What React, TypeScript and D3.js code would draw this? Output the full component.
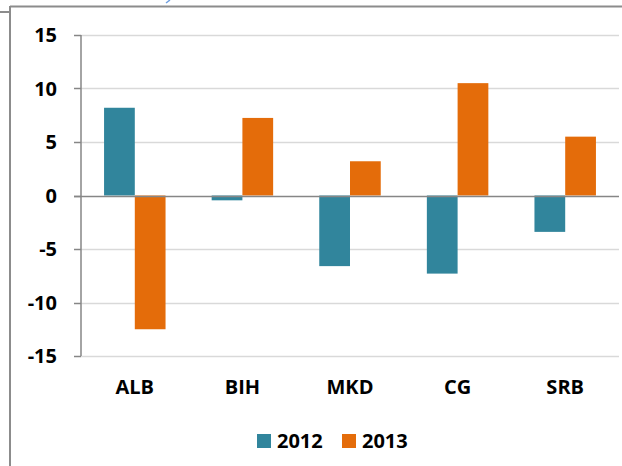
import React from "react";
import * as d3 from "d3";

const categories = ["ALB", "BIH", "MKD", "CG", "SRB"];
const series2012 = [8.2, -0.45, -6.6, -7.3, -3.4];
const series2013 = [-12.5, 7.25, 3.2, 10.5, 5.5];
const seriesNames = ["2012", "2013"];
const yTicks = [15, 10, 5, 0, -5, -10, -15];
const colors = ["#31859C", "#E46C0A"];

const W = 622;
const H = 466;
const plotLeft = 81;
const plotRight = 619;
const plotTop = 35;
const plotBottom = 356;
const font = "'Open Sans', sans-serif";
const fs = 20;

export default function App() {
  const y = d3.scaleLinear().domain([-15, 15]).range([plotBottom, plotTop]);
  const x = d3
    .scaleBand<string>()
    .domain(categories)
    .range([plotLeft, plotRight])
    .paddingInner(0)
    .paddingOuter(0);
  const bw = x.bandwidth();
  const barW = bw / 3.5;
  const data = [series2012, series2013];

  return (
    <svg
      width={W}
      height={H}
      style={{ position: "absolute", left: 0, top: 0, background: "#fff" }}
    >
      {/* frame */}
      <line x1={10} x2={W} y1={6.5} y2={6.5} stroke="#8c8c8c" strokeWidth={2} />
      <line x1={10} x2={10} y1={6} y2={H} stroke="#8c8c8c" strokeWidth={2} />
      <line x1={0} x2={9} y1={12} y2={12} stroke="#8c8c8c" strokeWidth={2} />
      <path d="M166,3 L170,0" stroke="#6f9fe0" strokeWidth={1.5} fill="none" />

      {/* gridlines */}
      {yTicks.map((t) =>
        t === 0 ? null : (
          <line
            key={"g" + t}
            x1={plotLeft}
            x2={plotRight}
            y1={Math.round(y(t)) + 0.5}
            y2={Math.round(y(t)) + 0.5}
            stroke="#d9d9d9"
            strokeWidth={1.5}
          />
        )
      )}

      {/* bars */}
      {data.map((vals, si) =>
        vals.map((v, i) => {
          const xs = (x(categories[i]) as number) + (bw - 2 * barW) / 2 + si * barW;
          return (
            <rect
              key={si + "-" + i}
              x={xs}
              width={barW}
              y={Math.min(y(v), y(0))}
              height={Math.abs(y(v) - y(0))}
              fill={colors[si]}
            />
          );
        })
      )}

      {/* y axis */}
      <line x1={plotLeft} x2={plotLeft} y1={plotTop} y2={plotBottom} stroke="#868686" strokeWidth={1.5} />
      {yTicks.map((t) => (
        <g key={"t" + t}>
          <line
            x1={plotLeft - 7}
            x2={plotLeft}
            y1={Math.round(y(t)) + 0.5}
            y2={Math.round(y(t)) + 0.5}
            stroke="#868686"
            strokeWidth={1.5}
          />
          <text
            x={57}
            y={y(t) + 7}
            textAnchor="end"
            fontFamily={font}
            fontWeight="bold"
            fontSize={fs}
            fill="#000"
          >
            {t}
          </text>
        </g>
      ))}
      {/* zero line */}
      <line
        x1={plotLeft - 7}
        x2={plotRight}
        y1={Math.round(y(0)) + 0.5}
        y2={Math.round(y(0)) + 0.5}
        stroke="#868686"
        strokeWidth={1.5}
      />

      {/* category labels */}
      {categories.map((c) => (
        <text
          key={c}
          x={(x(c) as number) + bw / 2}
          y={394}
          textAnchor="middle"
          fontFamily={font}
          fontWeight="bold"
          fontSize={fs}
          fill="#000"
        >
          {c}
        </text>
      ))}

      {/* legend */}
      {seriesNames.map((n, i) => (
        <g key={n} transform={`translate(${257 + i * 85},0)`}>
          <rect x={0} y={434} width={14} height={14} fill={colors[i]} />
          <text x={20} y={447.5} fontFamily={font} fontWeight="bold" fontSize={fs} fill="#000">
            {n}
          </text>
        </g>
      ))}
    </svg>
  );
}
